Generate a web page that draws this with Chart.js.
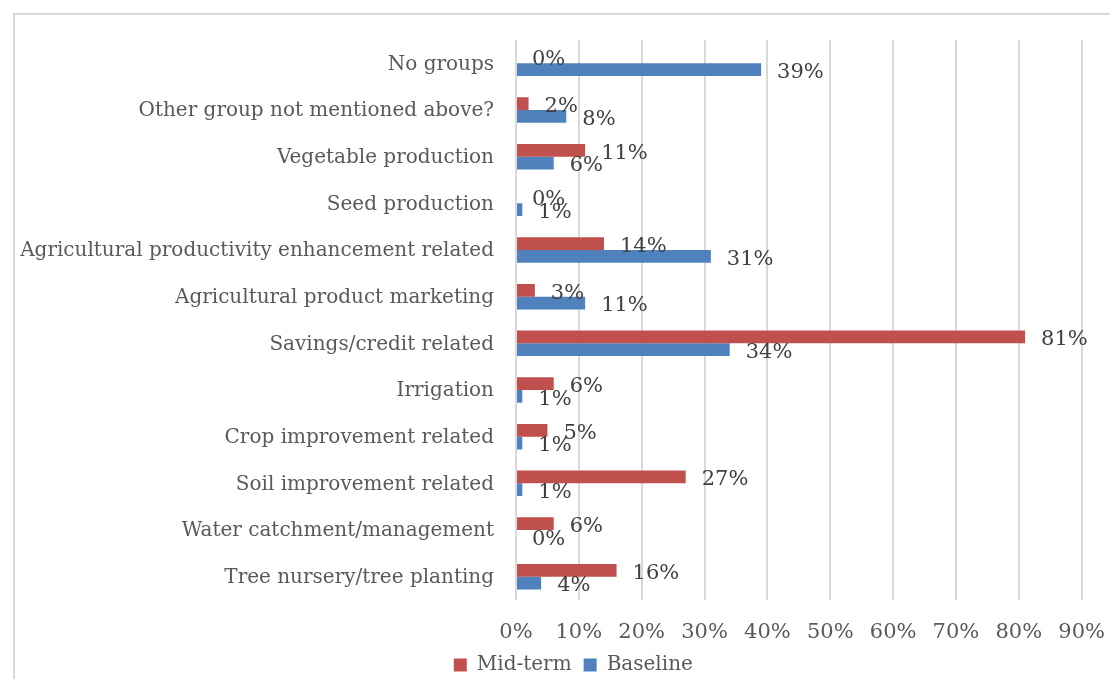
<!DOCTYPE html>
<html>
<head>
<meta charset="utf-8">
<script src="https://cdn.jsdelivr.net/npm/chart.js@4"></script>
<style>
  html, body { margin: 0; padding: 0; background: #fff; overflow: hidden; }
  #frame { position: absolute; left: 13px; top: 13px; width: 1110px; height: 680px; border: 2px solid #d9d9d9; box-sizing: border-box; }
  #wrap { position: absolute; left: 0; top: 0; width: 1125px; height: 685px; }
</style>
</head>
<body>
<div id="frame"></div>
<div id="wrap"><canvas id="chart"></canvas></div>
<script>
const categories = [
  'No groups',
  'Other group not mentioned above?',
  'Vegetable production',
  'Seed production',
  'Agricultural productivity enhancement related',
  'Agricultural product marketing',
  'Savings/credit related',
  'Irrigation',
  'Crop improvement related',
  'Soil improvement related',
  'Water catchment/management',
  'Tree nursery/tree planting'
];
const midTerm  = [0, 2, 11, 0, 14, 3, 81, 6, 5, 27, 6, 16];
const baseline = [39, 8, 6, 1, 31, 11, 34, 1, 1, 1, 0, 4];
const xTicks = [0, 10, 20, 30, 40, 50, 60, 70, 80, 90];

const FONT = "'DejaVu Serif', serif";

// value labels to the right of each bar
const barLabels = {
  id: 'barLabels',
  afterDatasetsDraw(chart) {
    const ctx = chart.ctx;
    ctx.save();
    ctx.font = '21px ' + FONT;
    ctx.fillStyle = '#404040';
    ctx.textAlign = 'left';
    ctx.textBaseline = 'middle';
    chart.data.datasets.forEach((ds, i) => {
      chart.getDatasetMeta(i).data.forEach((bar, j) => {
        ctx.fillText(ds.data[j] + '%', bar.x + 16, bar.y + 3);
      });
    });
    ctx.restore();
  }
};

// legend sits centred under the plot + labels, nudge it right a bit
const legendShift = {
  id: 'legendShift',
  afterLayout(chart) {
    chart.legend.left = 65;
    chart.legend.right = chart.chartArea.right;
  }
};

new Chart(document.getElementById('chart'), {
  type: 'bar',
  data: {
    labels: categories,
    datasets: [{
      label: 'Mid-term',
      data: midTerm,
      backgroundColor: '#C0504D',
      categoryPercentage: 0.545,
      barPercentage: 1
    }, {
      label: 'Baseline',
      data: baseline,
      backgroundColor: '#4F81BD',
      categoryPercentage: 0.545,
      barPercentage: 1
    }]
  },
  options: {
    indexAxis: 'y',
    responsive: true,
    maintainAspectRatio: false,
    animation: false,
    layout: { padding: { left: 0, right: 0, top: 40, bottom: 0 } },
    scales: {
      x: {
        min: 0,
        max: 90,
        afterBuildTicks: (scale) => { scale.ticks = xTicks.map(v => ({ value: v })); },
        afterFit: (scale) => { scale.height = 43; },
        ticks: {
          color: '#595959',
          font: { family: FONT, size: 21 },
          padding: 20,
          maxRotation: 0,
          callback: (v) => v + '%'
        },
        grid: { color: '#d9d9d9', lineWidth: 2, drawTicks: false },
        border: { display: false }
      },
      y: {
        afterFit: (scale) => { scale.width = 516; },
        ticks: {
          color: '#595959',
          font: { family: FONT, size: 20 },
          padding: 22,
          labelOffset: 1
        },
        grid: { display: false, drawTicks: false },
        border: { display: false }
      }
    },
    plugins: {
      legend: {
        position: 'bottom',
        labels: {
          color: '#595959',
          font: { family: FONT, size: 20 },
          boxWidth: 13,
          boxHeight: 13,
          padding: 12
        }
      },
      tooltip: { enabled: false }
    }
  },
  plugins: [barLabels, legendShift]
});
</script>
</body>
</html>
